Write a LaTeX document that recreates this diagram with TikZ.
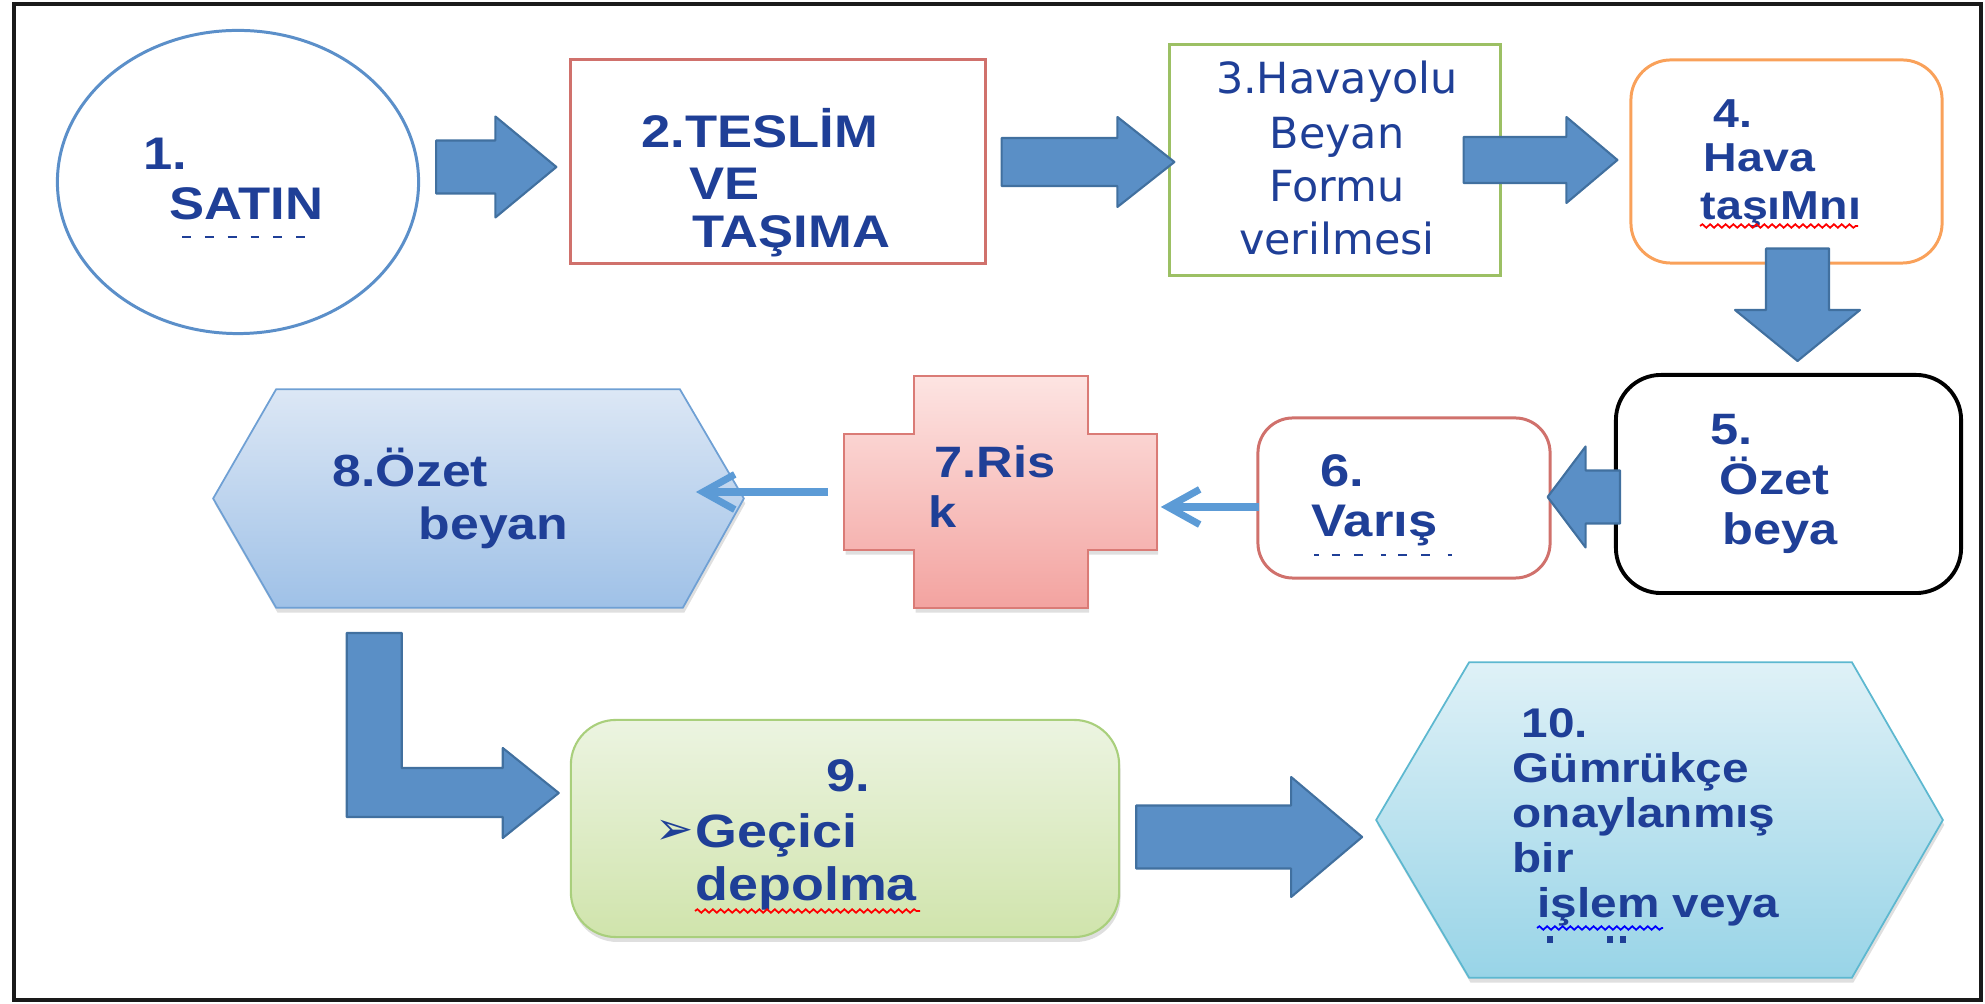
\documentclass[tikz,border=0pt]{standalone}
\usepackage{fontspec}
\setmainfont{Liberation Sans}[FakeStretch=1.15]
\newfontfamily\formfont{DejaVu Sans}
\usepackage{tikz}
\usetikzlibrary{shapes,arrows.meta,positioning,calc,shadows,decorations.pathmorphing}

\definecolor{navytext}{HTML}{1F3F97}
\definecolor{ellblue}{HTML}{5B8FC9}
\definecolor{boxred}{HTML}{D0716C}
\definecolor{boxgreen}{HTML}{9CC064}
\definecolor{boxorange}{HTML}{F9A15A}
\definecolor{arrowfill}{HTML}{5A8FC6}
\definecolor{arrowline}{HTML}{41709F}
\definecolor{thinblue}{HTML}{5C9BD6}
\definecolor{crossline}{HTML}{DA7B76}
\definecolor{crosstop}{HTML}{FDE4E2}
\definecolor{crossbot}{HTML}{F3A3A0}
\definecolor{hexline}{HTML}{6FA0D4}
\definecolor{hextop}{HTML}{DCE7F5}
\definecolor{hexbot}{HTML}{9FC1E7}
\definecolor{grline}{HTML}{A9CF7C}
\definecolor{grtop}{HTML}{ECF4E1}
\definecolor{grbot}{HTML}{D0E4AC}
\definecolor{cyline}{HTML}{5DB8D0}
\definecolor{cytop}{HTML}{DFF1F7}
\definecolor{cybot}{HTML}{98D4E7}
\definecolor{framegray}{HTML}{1A1A1A}

% block arrows: tail, tip, shaft half width, head half width, head length
\newcommand{\harrow}[5]{%
  \draw[blockarrow] ($(#1)+(0,#3)$) -- ($(#2)+({-(#5)},#3)$) -- ($(#2)+({-(#5)},#4)$) -- (#2)
    -- ($(#2)+({-(#5)},-#4)$) -- ($(#2)+({-(#5)},-#3)$) -- ($(#1)+(0,-#3)$) -- cycle;}
\newcommand{\varrow}[5]{%
  \draw[blockarrow] ($(#1)+(#3,0)$) -- ($(#2)+(#3,{-(#5)})$) -- ($(#2)+(#4,{-(#5)})$) -- (#2)
    -- ($(#2)+(-#4,{-(#5)})$) -- ($(#2)+(-#3,{-(#5)})$) -- ($(#1)+(-#3,0)$) -- cycle;}

\begin{document}
\begin{tikzpicture}[
    x=0.01cm, y=-0.01cm,
    lbl/.style={inner sep=0pt, anchor=base west, text=navytext, font=\bfseries\fontsize{#1}{#1}\selectfont},
    lbl/.default=13,
    formlbl/.style={inner sep=0pt, anchor=base, text=navytext, font=\formfont\fontsize{12.2}{12.2}\selectfont},
    outline/.style={draw, line width=0.85pt, inner sep=0pt},
    ghost/.style={inner sep=0pt},
    softshadow/.style={drop shadow={opacity=0.25, shadow xshift=0.4pt, shadow yshift=-1.4pt}},
    blockarrow/.style={fill=arrowfill, draw=arrowline, line width=0.6pt, line join=round},
    thinarrow/.style={draw=thinblue, line width=2pt, -{Straight Barb[length=9pt, width=10pt, line width=2pt]}},
    wavy/.style={decorate, decoration={snake, amplitude=0.5pt, segment length=2.2pt}, line width=0.5pt},
    stub/.style={navytext, line width=0.8pt}
]
\useasboundingbox (0,0) rectangle (1985,1004);
\draw[line width=1.2pt, draw=framegray] (14,4) rectangle (1981,1000);

% top row
\node[outline, ellipse, draw=ellblue, minimum width=3.61cm, minimum height=3.03cm] (n1) at (238,182) {};
\node[outline, draw=boxred, minimum width=4.14cm, minimum height=2.03cm] (n2) at (778,161.5) {};
\node[outline, draw=boxgreen, minimum width=3.30cm, minimum height=2.30cm] (n3) at (1335,160) {};
\node[outline, draw=boxorange, rounded corners=0.4cm, minimum width=3.11cm, minimum height=2.03cm] (n4) at (1786.5,161.5) {};

% middle row
\node[outline, draw=black, line width=1.1pt, rounded corners=0.45cm, minimum width=3.45cm, minimum height=2.18cm] (n5) at (1788.5,484) {};
\node[outline, draw=boxred, rounded corners=0.35cm, minimum width=2.92cm, minimum height=1.60cm] (n6) at (1404,498) {};
\node[ghost, minimum width=3.11cm, minimum height=2.30cm] (n7) at (1000.5,492) {};
\draw[draw=crossline, line width=0.5pt, top color=crosstop, bottom color=crossbot, softshadow]
  ($(n7.north west)+(70,0)$) -- ($(n7.north east)+(-69,0)$) -- ($(n7.north east)+(-69,58)$)
  -- ($(n7.north east)+(0,58)$) -- ($(n7.south east)+(0,-58)$) -- ($(n7.south east)+(-69,-58)$)
  -- ($(n7.south east)+(-69,0)$) -- ($(n7.south west)+(70,0)$) -- ($(n7.south west)+(70,-58)$)
  -- ($(n7.south west)+(0,-58)$) -- ($(n7.north west)+(0,58)$) -- ($(n7.north west)+(70,58)$) -- cycle;
\node[ghost, minimum width=5.29cm, minimum height=2.17cm] (n8) at (478.5,498.5) {};
\draw[draw=hexline, line width=0.5pt, top color=hextop, bottom color=hexbot, softshadow]
  (n8.west) -- ($(n8.north west)+(63,0)$) -- ($(n8.north east)+(-64,0)$) -- (n8.east)
  -- ($(n8.south east)+(-61,0)$) -- ($(n8.south west)+(63,0)$) -- cycle;

% bottom row
\node[outline, draw=grline, line width=0.6pt, rounded corners=0.45cm, top color=grtop, bottom color=grbot,
  softshadow, minimum width=5.48cm, minimum height=2.17cm] (n9) at (845,828.5) {};
\node[ghost, minimum width=5.65cm, minimum height=3.14cm] (n10) at (1659.5,820) {};
\draw[draw=cyline, line width=0.5pt, top color=cytop, bottom color=cybot, softshadow]
  (n10.west) -- ($(n10.north west)+(93,0)$) -- ($(n10.north east)+(-91,0)$) -- (n10.east)
  -- ($(n10.south east)+(-91,0)$) -- ($(n10.south west)+(93,0)$) -- cycle;

% block arrows
\coordinate (a12e) at ($(n2.west)+(-13,5.5)$);
\coordinate (a12s) at ($(n1.east |- a12e)+(16,0)$);
\harrow{a12s}{a12e}{26.5}{50.5}{61}
\coordinate (a23e) at ($(n3.west)+(6,2)$);
\coordinate (a23s) at ($(n2.east |- a23e)+(15,0)$);
\harrow{a23s}{a23e}{24}{45}{57}
\coordinate (a34e) at ($(n4.west)+(-12,-1.5)$);
\coordinate (a34s) at ($(n3.east |- a34e)+(-38,0)$);
\harrow{a34s}{a34e}{23}{43}{51}
\coordinate (a45e) at ($(n5.north)+(9,-12)$);
\coordinate (a45s) at ($(n4.south -| a45e)+(0,-16)$);
\varrow{a45s}{a45e}{31.5}{62.5}{51}
\coordinate (a56e) at ($(n6.east)+(-4,-1)$);
\coordinate (a56s) at ($(n5.west |- a56e)+(6,0)$);
\harrow{a56s}{a56e}{26.5}{50.5}{-38}
\coordinate (a89e) at ($(n9.west)+(-11,-35.5)$);
\draw[blockarrow] (a89e) -- ++(-56,45) -- ++(0,-21) -- ++(-156,0) -- ++(0,-184) -- ++(55,0)
  -- ++(0,135) -- ++(101,0) -- ++(0,-20) -- cycle;
\coordinate (a910e) at ($(n10.west)+(-14,17)$);
\coordinate (a910s) at ($(n9.east |- a910e)+(16,0)$);
\harrow{a910s}{a910e}{31.5}{60}{71}

% thin arrows
\coordinate (a67s) at ($(n6.west)+(3,9)$);
\draw[thinarrow] (a67s) -- ($(n7.east |- a67s)+(4,0)$);
\coordinate (a78s) at ($(n7.west)+(-16,0)$);
\draw[thinarrow] (a78s) -- ($(n8.east |- a78s)+(-48,0)$);

% texts
\node[lbl] (t1a) at (143,170) {1.};
\node[lbl] (t1b) at (169,220) {SATIN};
\draw[stub, dash pattern=on 2.5pt off 4pt] (182,237) -- (312,237);

\node[lbl] (t2a) at (641,148) {2.TESLİM};
\node[lbl] (t2b) at (689,200) {VE};
\node[lbl] (t2c) at (692,248) {TAŞIMA};

\node[formlbl] (t3a) at (1337,94) {3.Havayolu};
\node[formlbl] (t3b) at (1337,149) {Beyan};
\node[formlbl] (t3c) at (1337,202) {Formu};
\node[formlbl] (t3d) at (1337,255) {verilmesi};

\node[lbl=11.5] (t4a) at (1713,128) {4.};
\node[lbl=11.5] (t4b) at (1703,172) {Hava};
\node[lbl=11.5] (t4c) at (1700,220) {taşıMnı};
\draw[red, wavy] (1700,226) -- (1858,226);

\node[lbl=12.5] (t5a) at (1710,445) {5.};
\node[lbl=12.5] (t5b) at (1719,495) {Özet};
\node[lbl=12.5] (t5c) at (1722,545) {beya};

\node[lbl] (t6a) at (1320,487) {6.};
\node[lbl] (t6b) at (1311,537) {Varış};
\draw[stub, dash pattern=on 1.5pt off 3.5pt on 2.5pt off 4pt on 2.5pt off 5pt] (1314,555) -- (1452,555);

\node[lbl=12.5] (t7a) at (934,478) {7.Ris};
\node[lbl=12.5] (t7b) at (928,528) {k};

\node[lbl=12.8] (t8a) at (332,487) {8.Özet};
\node[lbl=12.8] (t8b) at (418,540) {beyan};

\node[lbl] (t9a) at (826,792) {9.};
\node[inner sep=0pt, anchor=base west, text=navytext, font=\formfont\fontsize{13}{13}\selectfont] (t9m) at (655,845) {➢};
\node[lbl=13.3] (t9b) at (695,847) {Geçici};
\node[lbl=13.3] (t9c) at (695,900) {depolma};
\draw[red, wavy] (695,911) -- (920,911);

\node[lbl=11.8] (t10a) at (1521,738) {10.};
\node[lbl=11.8] (t10b) at (1512,783) {Gümrükçe};
\node[lbl=11.8] (t10c) at (1512,828) {onaylanmış};
\node[lbl=11.8] (t10d) at (1512,873) {bir};
\node[lbl=11.8] (t10e) at (1537,918) {işlem veya};
\draw[blue, wavy] (1537,928) -- (1663,928);
\foreach \sx in {1550,1610,1623}
  \fill[navytext] (\sx-3,936) rectangle (\sx+3,943);

\end{tikzpicture}
\end{document}
